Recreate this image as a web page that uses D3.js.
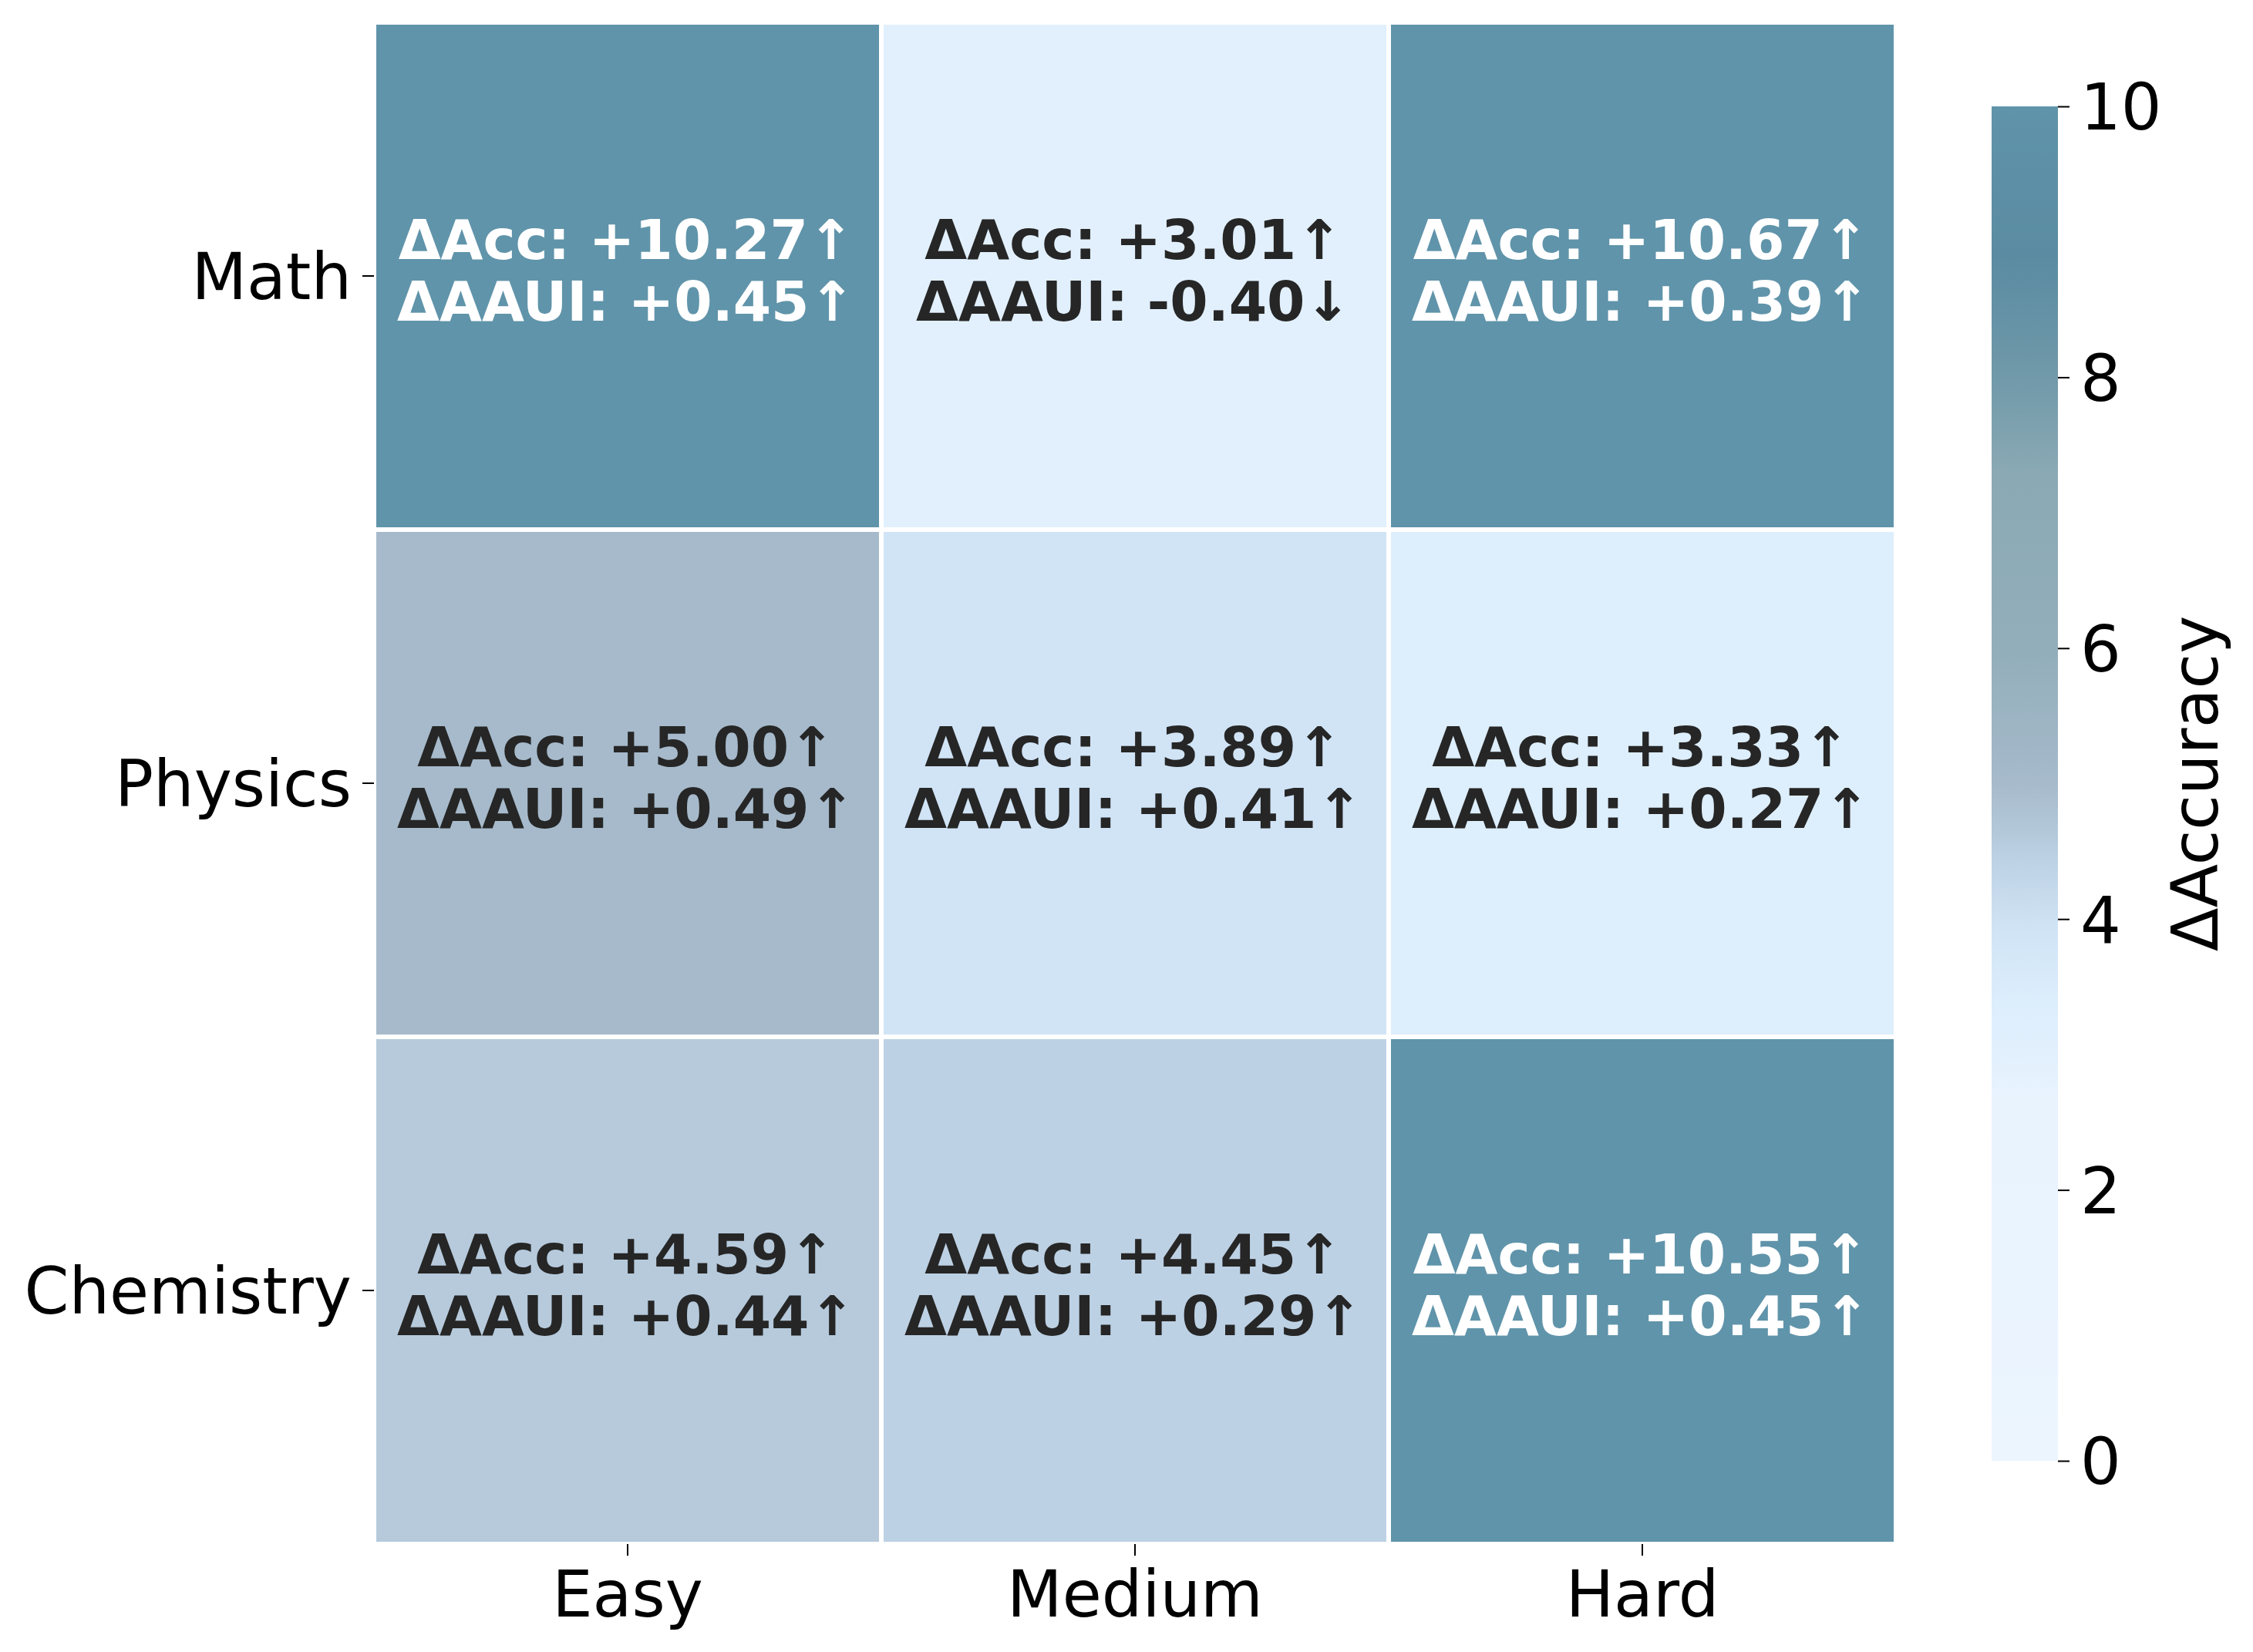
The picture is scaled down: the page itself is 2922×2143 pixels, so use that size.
<!DOCTYPE html>
<html>
<head>
<meta charset="utf-8">
<script src="https://cdn.jsdelivr.net/npm/d3@7"></script>
<style>
  html, body { margin: 0; padding: 0; background: #fff; }
  svg text { font-family: "DejaVu Sans", sans-serif; }
</style>
</head>
<body>
<svg id="chart"></svg>
<script>
// data
const subjects = ['Math', 'Physics', 'Chemistry'];
const levels = ['Easy', 'Medium', 'Hard'];
const accDelta = [
  [10.27, 3.01, 10.67],
  [5.00, 3.89, 3.33],
  [4.59, 4.45, 10.55]
];
const aauiDelta = [
  [0.45, -0.40, 0.39],
  [0.49, 0.41, 0.27],
  [0.44, 0.29, 0.45]
];
const cbarTicks = [0, 2, 4, 6, 8, 10];
// colormap stops (value -> colour)
const cmapValues = [0, 2.7, 3.0, 3.4, 3.9, 4.45, 4.6, 5.0, 6.0, 7.3, 8.0, 8.9, 10];
const cmapColors = ['#ecf5fe', '#e8f3fe', '#e2f0fd', '#dcedfc', '#d1e4f6', '#bdd1e4',
  '#b5cadb', '#a6bacb', '#92aeba', '#8aa9b4', '#7099a9', '#5a8ba2', '#6094aa'];

(function() {
  const width = 2922;
  const height = 2143;
  const heat = { left: 485, right: 2459, top: 29, bottom: 2003 };
  const cbar = { left: 2583, right: 2669, top: 138, bottom: 1895 };
  const tickFont = 83;
  const cellFont = 71;

  const svg = d3.select('#chart')
    .attr('width', width)
    .attr('height', height);

  const x = d3.scaleBand().domain(levels).range([heat.left, heat.right]);
  const y = d3.scaleBand().domain(subjects).range([heat.top, heat.bottom]);
  const color = d3.scaleLinear().domain(cmapValues).range(cmapColors)
    .interpolate(d3.interpolateRgb).clamp(true);

  const cells = [];
  subjects.forEach(function(s, i) {
    levels.forEach(function(l, j) {
      cells.push({ subject: s, level: l, acc: accDelta[i][j], aaui: aauiDelta[i][j] });
    });
  });

  const sign = function(v) { return v >= 0 ? '+' + v.toFixed(2) : v.toFixed(2); };

  const cellG = svg.append('g').attr('class', 'cells')
    .selectAll('g')
    .data(cells)
    .enter()
    .append('g');

  cellG.append('rect')
    .attr('x', function(d) { return x(d.level); })
    .attr('y', function(d) { return y(d.subject); })
    .attr('width', x.bandwidth())
    .attr('height', y.bandwidth())
    .attr('fill', function(d) { return color(d.acc); })
    .attr('stroke', '#fff')
    .attr('stroke-width', 6);

  const textColor = function(d) {
    return d3.lab(color(d.acc)).l < 65 ? '#ffffff' : '#262626';
  };

  cellG.append('text')
    .attr('text-anchor', 'middle')
    .attr('font-weight', 'bold')
    .attr('font-size', cellFont)
    .attr('fill', textColor)
    .each(function(d) {
      const cx = x(d.level) + x.bandwidth() / 2 - 2;
      const cy = y(d.subject) + y.bandwidth() / 2;
      const t = d3.select(this);
      t.append('tspan')
        .attr('x', cx)
        .attr('y', cy - 22)
        .text('\u0394Acc: ' + sign(d.acc) + (d.acc >= 0 ? '\u2191' : '\u2193'));
      t.append('tspan')
        .attr('x', cx)
        .attr('y', cy + 58)
        .text('\u0394AAUI: ' + sign(d.aaui) + (d.aaui >= 0 ? '\u2191' : '\u2193'));
    });

  // axes
  const xAxis = svg.append('g')
    .attr('transform', 'translate(0,' + heat.bottom + ')')
    .call(d3.axisBottom(x).tickSize(15).tickPadding(14));
  const yAxis = svg.append('g')
    .attr('transform', 'translate(' + heat.left + ',0)')
    .call(d3.axisLeft(y).tickSize(15).tickPadding(14));

  [xAxis, yAxis].forEach(function(ax) {
    ax.select('.domain').remove();
    ax.selectAll('.tick line').attr('stroke', '#000').attr('stroke-width', 2);
    ax.selectAll('.tick text')
      .attr('font-size', tickFont)
      .attr('font-family', '"DejaVu Sans", sans-serif')
      .attr('fill', '#000');
  });
  xAxis.selectAll('.tick text').attr('dy', null).attr('y', 94);
  yAxis.selectAll('.tick text').attr('dy', '0.36em');

  // colour bar
  const cScale = d3.scaleLinear().domain([0, 10]).range([cbar.bottom, cbar.top]);
  const defs = svg.append('defs');
  const grad = defs.append('linearGradient')
    .attr('id', 'cbar-grad')
    .attr('x1', 0).attr('y1', 1).attr('x2', 0).attr('y2', 0);
  grad.selectAll('stop')
    .data(d3.range(0, 10.001, 0.1))
    .enter()
    .append('stop')
    .attr('offset', function(v) { return (v / 10 * 100) + '%'; })
    .attr('stop-color', function(v) { return color(v); });

  svg.append('rect')
    .attr('x', cbar.left)
    .attr('y', cbar.top)
    .attr('width', cbar.right - cbar.left)
    .attr('height', cbar.bottom - cbar.top)
    .attr('fill', 'url(#cbar-grad)');

  const cAxis = svg.append('g')
    .attr('transform', 'translate(' + cbar.right + ',0)')
    .call(d3.axisRight(cScale).tickValues(cbarTicks).tickSize(15).tickPadding(14));
  cAxis.select('.domain').remove();
  cAxis.selectAll('.tick line').attr('stroke', '#000').attr('stroke-width', 2);
  cAxis.selectAll('.tick text')
    .attr('font-size', tickFont)
    .attr('font-family', '"DejaVu Sans", sans-serif')
    .attr('fill', '#000')
    .attr('dy', '0.36em');

  svg.append('text')
    .attr('transform', 'translate(2876,' + ((cbar.top + cbar.bottom) / 2) + ') rotate(-90)')
    .attr('text-anchor', 'middle')
    .attr('font-size', tickFont)
    .attr('fill', '#000')
    .text('\u0394Accuracy');
})();
</script>
</body>
</html>
